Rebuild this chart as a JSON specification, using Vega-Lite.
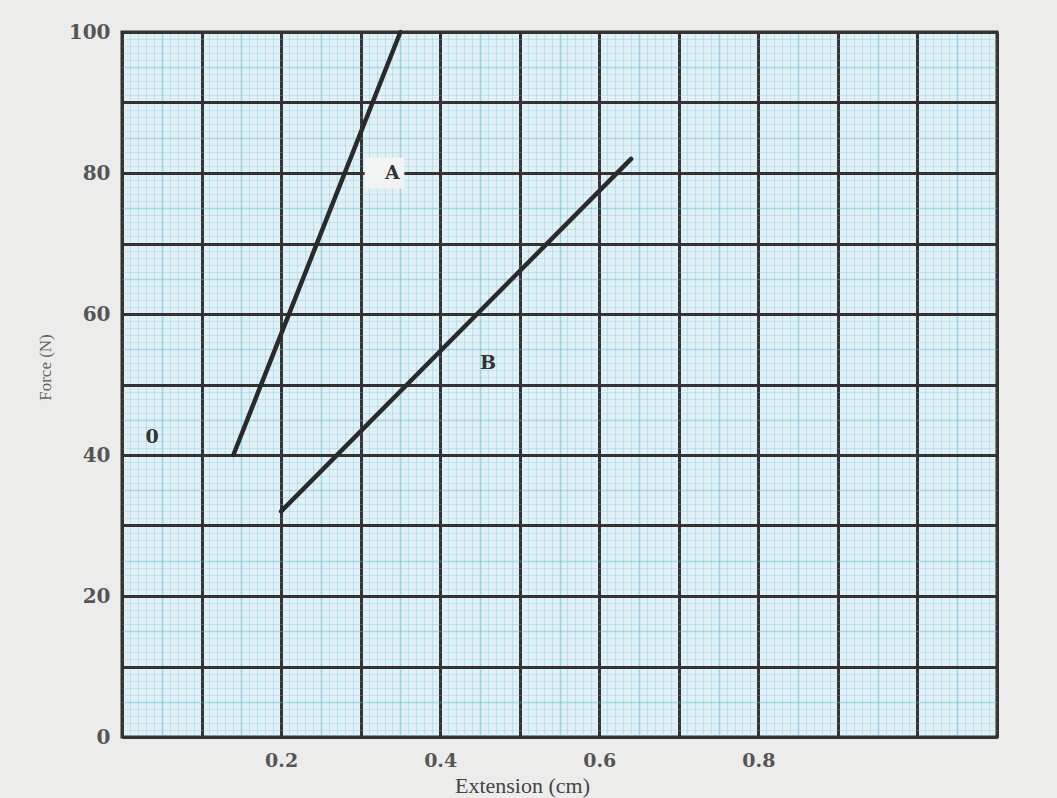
{
  "$schema": "https://vega.github.io/schema/vega-lite/v6.json",
  "width": 875,
  "height": 705,
  "autosize": "none",
  "padding": {"left": 122, "top": 32, "right": 60, "bottom": 61},
  "background": "#ecedeb",
  "view": {"fill": "#e0f0f5", "stroke": "#2e2e2e", "strokeWidth": 3},
  "datasets": {
    "lines": [
      {"series": "A", "extension": 0.14, "force": 40},
      {"series": "A", "extension": 0.35, "force": 100},
      {"series": "B", "extension": 0.2, "force": 32},
      {"series": "B", "extension": 0.64, "force": 82}
    ],
    "patches": [
      {"x1": 0.305, "x2": 0.355, "y1": 77.8, "y2": 82.2}
    ],
    "labels": [
      {"label": "A", "extension": 0.34, "force": 80},
      {"label": "B", "extension": 0.46, "force": 53},
      {"label": "0", "extension": 0.038, "force": 42.5}
    ]
  },
  "layer": [
    {
      "data": {"name": "lines"},
      "mark": {"type": "line", "color": "#2a2a2a", "strokeWidth": 4.5, "strokeCap": "round"},
      "encoding": {
        "x": {
          "field": "extension",
          "type": "quantitative",
          "scale": {"domain": [0, 1.1], "nice": false, "zero": false},
          "axis": {
            "title": "Extension (cm)",
            "titleFont": "Liberation Serif",
            "titleFontSize": 22,
            "titleFontWeight": "normal",
            "titleColor": "#444444",
            "titlePadding": 5,
            "titleX": 400,
            "tickCount": 110,
            "ticks": false,
            "domain": false,
            "labelOverlap": false,
            "labelFlush": false,
            "labelExpr": "(abs(datum.value*10 - round(datum.value*10)) < 1e-6 && indexof(['0.2','0.4','0.6','0.8'], format(datum.value, '.1f')) >= 0) ? format(datum.value, '.1f') : ''",
            "labelFont": "DejaVu Serif",
            "labelFontWeight": "bold",
            "labelFontSize": 19,
            "labelColor": "#555555",
            "labelPadding": 14,
            "grid": true,
            "gridColor": {
              "condition": [
                {"test": "round(datum.value*100) % 10 == 0", "value": "#333333"},
                {"test": "round(datum.value*100) % 5 == 0", "value": "#62bcd6"}
              ],
              "value": "#7cc8de"
            },
            "gridOpacity": {
              "condition": [
                {"test": "round(datum.value*100) % 10 == 0", "value": 1},
                {"test": "round(datum.value*100) % 5 == 0", "value": 0.55}
              ],
              "value": 0.4
            },
            "gridWidth": {
              "condition": [
                {"test": "round(datum.value*100) % 10 == 0", "value": 3},
                {"test": "round(datum.value*100) % 5 == 0", "value": 1.5}
              ],
              "value": 1
            }
          }
        },
        "y": {
          "field": "force",
          "type": "quantitative",
          "scale": {"domain": [0, 100], "nice": false},
          "axis": {
            "title": "Force (N)",
            "titleFont": "Liberation Serif",
            "titleFontSize": 17,
            "titleFontWeight": "normal",
            "titleColor": "#666666",
            "titlePadding": 14,
            "titleY": 335,
            "tickCount": 100,
            "ticks": false,
            "domain": false,
            "labelOverlap": false,
            "labelFlush": false,
            "labelExpr": "round(datum.value) % 20 == 0 ? format(datum.value, 'd') : ''",
            "labelFont": "DejaVu Serif",
            "labelFontWeight": "bold",
            "labelFontSize": 20,
            "labelColor": "#555555",
            "labelPadding": 12,
            "grid": true,
            "gridColor": {
              "condition": [
                {"test": "round(datum.value) % 10 == 0", "value": "#333333"},
                {"test": "round(datum.value) % 5 == 0", "value": "#62bcd6"}
              ],
              "value": "#7cc8de"
            },
            "gridOpacity": {
              "condition": [
                {"test": "round(datum.value) % 10 == 0", "value": 1},
                {"test": "round(datum.value) % 5 == 0", "value": 0.45}
              ],
              "value": 0.3
            },
            "gridWidth": {
              "condition": [
                {"test": "round(datum.value) % 10 == 0", "value": 3},
                {"test": "round(datum.value) % 5 == 0", "value": 1.5}
              ],
              "value": 1
            }
          }
        },
        "detail": {"field": "series", "type": "nominal"}
      }
    },
    {
      "data": {"name": "patches"},
      "mark": {"type": "rect", "fill": "#f2f4f3"},
      "encoding": {
        "x": {"field": "x1", "type": "quantitative"},
        "x2": {"field": "x2"},
        "y": {"field": "y1", "type": "quantitative"},
        "y2": {"field": "y2"}
      }
    },
    {
      "data": {"name": "labels"},
      "mark": {"type": "text", "font": "DejaVu Serif", "fontWeight": "bold", "fontSize": 19, "color": "#333333"},
      "encoding": {
        "x": {"field": "extension", "type": "quantitative"},
        "y": {"field": "force", "type": "quantitative"},
        "text": {"field": "label", "type": "nominal"}
      }
    }
  ]
}
